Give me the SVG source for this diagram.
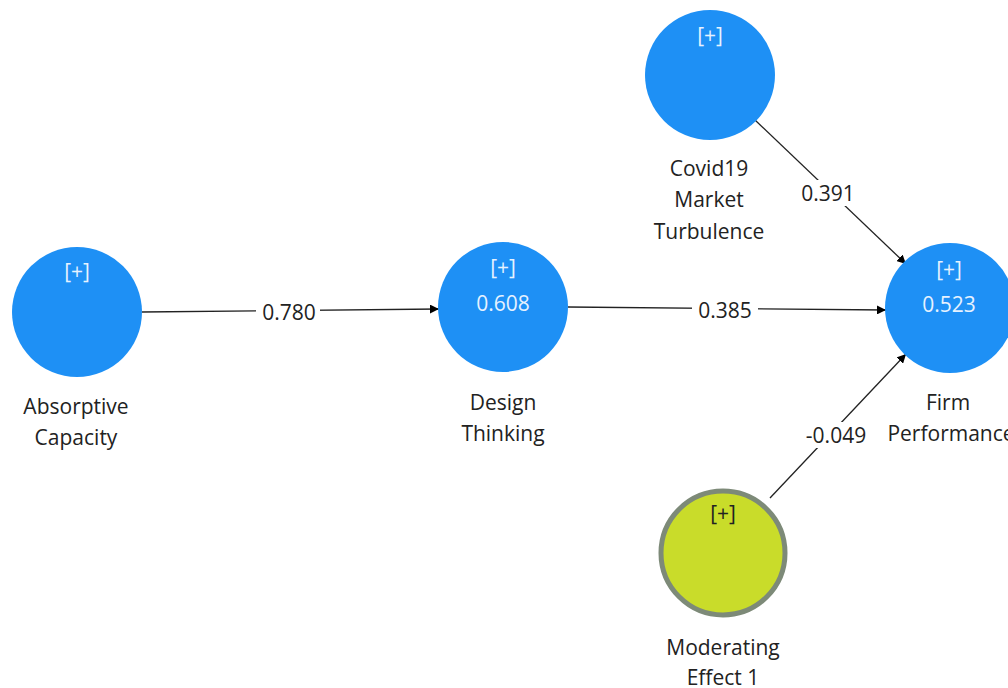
<svg xmlns="http://www.w3.org/2000/svg" width="1008" height="688" viewBox="0 0 1008 688">
<style>
.n{fill:#1e90f5}
.m{fill:#c9dc2a;stroke:#7d8a78;stroke-width:5}
.t{font-family:"Open Sans","Noto Sans",sans-serif;font-size:21px;fill:#222;text-anchor:middle}
.w{font-family:"Open Sans","Noto Sans",sans-serif;font-size:21px;fill:#e6f2ff;text-anchor:middle}
.c{stroke:#222;stroke-width:1.3;fill:none;marker-end:url(#a)}
.lb{fill:#fff}
</style>
<defs>
<marker id="a" viewBox="0 0 10 10" refX="10" refY="5" markerWidth="9" markerHeight="9" markerUnits="userSpaceOnUse" orient="auto">
<path d="M0,0 L10,5 L0,10 z" fill="#000"/>
</marker>
</defs>
<rect width="1008" height="688" fill="#fff"/>
<g id="connectors">
<line class="c" x1="142" y1="312" x2="439" y2="309"/>
<line class="c" x1="568" y1="307" x2="886" y2="310"/>
<line class="c" x1="755" y1="120" x2="906" y2="264"/>
<line class="c" x1="770" y1="498" x2="906" y2="354"/>
<rect class="lb" x="256" y="299" width="64" height="26"/>
<text class="t" x="289" y="320">0.780</text>
<rect class="lb" x="692" y="297" width="66" height="26"/>
<text class="t" x="725" y="318">0.385</text>
<rect class="lb" x="796" y="180" width="64" height="26"/>
<text class="t" x="828" y="201">0.391</text>
<rect class="lb" x="798" y="422" width="76" height="26"/>
<text class="t" x="836" y="443">-0.049</text>
</g>
<g id="absorptive-capacity">
<circle class="n" cx="77" cy="312" r="65"/>
<text class="w" x="77" y="279">[+]</text>
<text class="t" x="76" y="414">Absorptive</text>
<text class="t" x="76" y="445">Capacity</text>
</g>
<g id="design-thinking">
<circle class="n" cx="503" cy="307" r="65"/>
<text class="w" x="503" y="275">[+]</text>
<text class="w" x="503" y="311">0.608</text>
<text class="t" x="503" y="410">Design</text>
<text class="t" x="503" y="441">Thinking</text>
</g>
<g id="covid19-market-turbulence">
<circle class="n" cx="710" cy="75" r="65"/>
<text class="w" x="710" y="43">[+]</text>
<text class="t" x="709" y="176">Covid19</text>
<text class="t" x="709" y="207">Market</text>
<text class="t" x="709" y="239">Turbulence</text>
</g>
<g id="firm-performance">
<circle class="n" cx="950" cy="308" r="65"/>
<text class="w" x="949" y="277">[+]</text>
<text class="w" x="949" y="312">0.523</text>
<text class="t" x="948" y="410">Firm</text>
<text class="t" x="951" y="441">Performance</text>
</g>
<g id="moderating-effect-1">
<circle class="m" cx="723" cy="553" r="62"/>
<text class="t" x="723" y="521">[+]</text>
<text class="t" x="723" y="655">Moderating</text>
<text class="t" x="723" y="685">Effect 1</text>
</g>
</svg>
